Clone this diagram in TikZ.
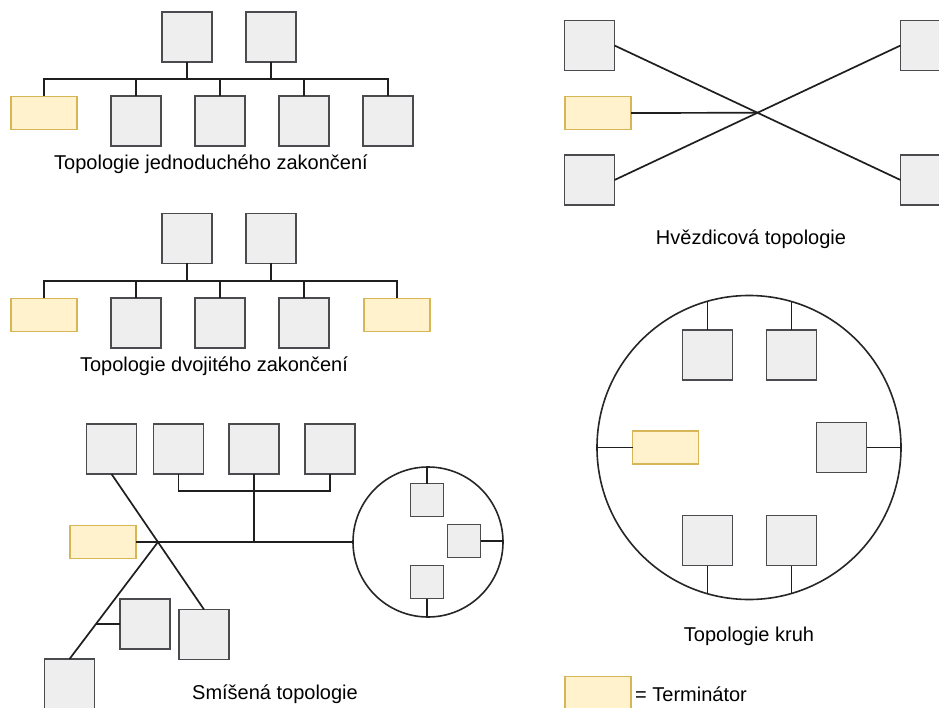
\documentclass[tikz,border=0pt]{standalone}
\usepackage{fontspec}
\setmainfont{Liberation Sans}
\usetikzlibrary{calc}
\definecolor{boxfill}{HTML}{EEEEEE}
\definecolor{boxline}{HTML}{4A4B4E}
\definecolor{termfill}{HTML}{FFF2CC}
\definecolor{termline}{HTML}{D6B656}
\tikzset{
  station/.style={draw=boxline, fill=boxfill, line width=1.8pt, minimum width=50pt, minimum height=50pt, inner sep=0pt, outer sep=0pt},
  small/.style={station, minimum width=33pt, minimum height=33pt},
  term/.style={draw=termline, fill=termfill, line width=1.5pt, minimum width=66pt, minimum height=33pt, inner sep=0pt, outer sep=0pt},
  ring/.style={circle, draw=black!85, line width=1.6pt, inner sep=0pt, outer sep=0pt},
  wire/.style={draw=black!88, line width=1.7pt},
  caption/.style={font=\fontsize{20}{24}\selectfont, inner sep=0pt, anchor=base}
}
\begin{document}
\begin{tikzpicture}[x=1pt,y=-1pt]
\useasboundingbox (0,0) rectangle (939,708);
\clip (0,0) rectangle (939,708);
\fill[white] (0,0) rectangle (939,708);

% ---- single-terminated bus ----
\coordinate (busAL) at (44,79);
\coordinate (busAR) at (388,79);
\node[station] (a1) at (187,37) {};
\node[station] (a2) at (271,37) {};
\node[term]    (at) at (44,113) {};
\node[station] (a3) at (136,121) {};
\node[station] (a4) at (220,121) {};
\node[station] (a5) at (304,121) {};
\node[station] (a6) at (388,121) {};
\draw[wire] (at.north) -- (busAL) -- (busAR) -- (a6.north);
\foreach \n in {a1,a2} \draw[wire] (\n.south) -- (\n.south |- busAL);
\foreach \n in {a3,a4,a5} \draw[wire] (\n.north) -- (\n.north |- busAL);
\node[caption] (capA) at (211,169.5) {Topologie jednoduchého zakončení};

% ---- double-terminated bus ----
\coordinate (busBL) at (44,281);
\coordinate (busBR) at (397,281);
\node[station] (b1) at (187,238.5) {};
\node[station] (b2) at (271,238.5) {};
\node[term]    (bt1) at (44,315) {};
\node[station] (b3) at (136,323) {};
\node[station] (b4) at (220,323) {};
\node[station] (b5) at (304,323) {};
\node[term]    (bt2) at (397,315) {};
\draw[wire] (bt1.north) -- (busBL) -- (busBR) -- (bt2.north);
\foreach \n in {b1,b2} \draw[wire] (\n.south) -- (\n.south |- busBL);
\foreach \n in {b3,b4,b5} \draw[wire] (\n.north) -- (\n.north |- busBL);
\node[caption] (capB) at (214,371.5) {Topologie dvojitého zakončení};

% ---- mixed topology ----
\node[station] (c1) at (111.5,449) {};
\node[station] (c2) at (178.5,449) {};
\node[station] (c3) at (254,449) {};
\node[station] (c4) at (330,449) {};
\node[term]    (ct) at (103,542) {};
\node[station] (c5) at (204,634.5) {};
\node[station] (c6) at (145,624) {};
\node[station] (c7) at (69.5,684) {};
\node[ring, minimum size=150pt] (cr) at (428,542) {};
\node[small] (c8) at (427,500) {};
\node[small] (c9) at (464,541) {};
\node[small] (c10) at (427,582) {};
\coordinate (cbr) at (254,491);
\coordinate (cx) at (158,542);
\draw[wire] (c2.south) |- (cbr) -| (c4.south);
\draw[wire] (c3.south) -- (c3.south |- ct.east);
\draw[wire] (ct.east) -- (cr.west);
\draw[wire] (c1.south) -- (c5.north);
\draw[wire] (cx) -- (c7.north);
\draw[wire] (c6.west) -- ($(cx)!0.70!(c7.north)$);
\draw[wire] (c8.north) -- (c8.north |- cr.north);
\draw[wire] (c9.east) -- (c9.east -| cr.east);
\draw[wire] (c10.south) -- (c10.south |- cr.south);
\node[caption] (capC) at (275,699) {Smíšená topologie};

% ---- star topology ----
\node[station] (s1) at (589.5,45.5) {};
\node[term]    (st) at (598,113) {};
\node[station] (s2) at (589.5,180) {};
\node[station] (s3) at (925.5,45.5) {};
\node[station] (s4) at (925.5,180) {};
\coordinate (sx) at (intersection of s1.east--s4.west and s2.east--s3.west);
\draw[wire] (s1.east) -- (s4.west);
\draw[wire] (s2.east) -- (s3.west);
\draw[wire] (st.east) -- (sx);
\node[caption] (capS) at (751,245) {Hvězdicová topologie};

% ---- ring topology ----
\node[ring, minimum size=304pt] (rr) at (749,447.5) {};
\node[station] (r1) at (707.5,355) {};
\node[station] (r2) at (791.5,355) {};
\node[term]    (rt) at (665.5,447.5) {};
\node[station] (r3) at (841.5,447.5) {};
\node[station] (r4) at (707.5,540.5) {};
\node[station] (r5) at (791.5,540.5) {};
\draw[wire] (r1.north) -- (r1.north |- rr.105.84);
\draw[wire] (r2.north) -- (r2.north |- rr.73.76);
\draw[wire] (r4.south) -- (r4.south |- rr.254.16);
\draw[wire] (r5.south) -- (r5.south |- rr.286.24);
\draw[wire] (rt.west) -- (rr.west);
\draw[wire] (r3.east) -- (rr.east);
\node[caption] (capR) at (749,641.5) {Topologie kruh};

% ---- legend ----
\node[term] (lt) at (598,693) {};
\node[caption, anchor=base west] (lg) at (635,701) {= Terminátor};
\end{tikzpicture}
\end{document}
